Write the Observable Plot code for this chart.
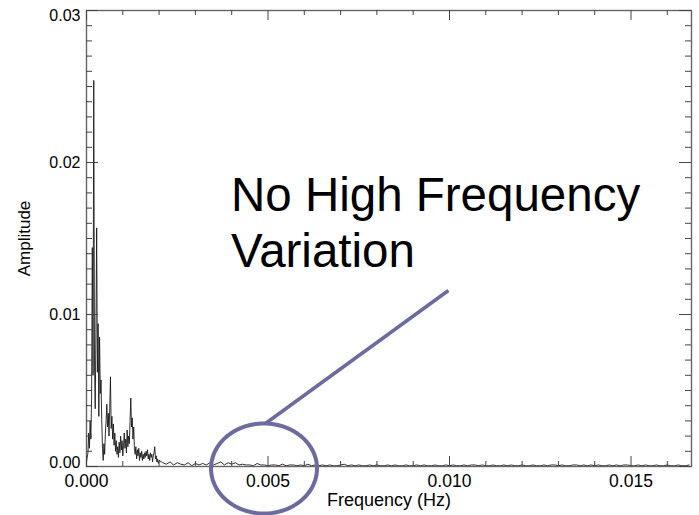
<!DOCTYPE html>
<html><head><meta charset="utf-8">
<script src="https://cdn.jsdelivr.net/npm/d3@7"></script>
<script src="https://cdn.jsdelivr.net/npm/@observablehq/plot@0.6"></script>
<style>html,body{margin:0;padding:0;background:#fff;} svg{display:block;}</style>
</head><body><div id="chart"></div>
<script>
// ---- data (amplitudes in units of 1e-4) ----
const lowStart = 0, lowStep = 0.00002;
const lowAmp = [
  3,6,9,22,12,30,18,45,144,60,
  254,70,38,90,157,62,94,33,85,48,
  57,30,12,4,15,8,22,30,41,26,
  35,20,38,59,25,33,18,28,14,22,
  10,17,8,13,6,16,9,20,11,17,
  7,14,22,12,18,9,24,13,20,15,
  30,45,26,32,18,26,12,8,13,5,
  11,7,12,4,9,6,10,4,8,5,
  9,6,10,7,11,5,8,4,9,6,
  8,3,7,9,13,5,7,3,5,2,4
];
const highStart = 0.0021, highStep = 0.0001;
const highAmp = [
  2.5,1.5,3,1,2.5,1.5,1,2.5,0.5,2,1,2,1,2.5,1,
  2,3,1,2.5,1.5,2.5,1,1.5,1,1,0.5,2,1,1,0.5,
  1,1,0.5,1.5,0.5,1,1,0.5,1,0.5,1.5,0.5,1,0.5,1,
  0.5,1,0.5,0.5,1,1.5,0.5,1,0.5,1,0.5,0.5,1,0.5,1,
  0.5,0.5,1,0.5,1,0.5,0.5,1,0.5,0.5,1,0.5,1,0.5,0.5,
  1,0.5,0.5,1,0.5,1,0.5,0.5,1,0.5,1,1,0.5,1,0.5,
  0.5,1,0.5,0.5,1,0.5,1,0.5,0.5,1,0.5,0.5,1,0.5,0.5,
  1,0.5,1,1,0.5,1,0.5,0.5,1,1,0.5,1,0.5,1,0.5,
  1,0.5,0.5,1,0.5,1,0.5,1,1,0.5,0.5,1,0.5,1,0.5,
  0.5,1,0.5,0.5,1,0.5,0.5,1,0.5,0.5,1
];
const xMajorTicks = [0, 0.005, 0.010, 0.015];
const xMinorTicks = [0.001,0.002,0.003,0.004,0.006,0.007,0.008,0.009,0.011,0.012,0.013,0.014,0.016];
const yMajorTicks = [0, 0.01, 0.02, 0.03];
const yMinorTicks = [0.001,0.002,0.003,0.004,0.005,0.006,0.007,0.008,0.009,
  0.011,0.012,0.013,0.014,0.015,0.016,0.017,0.018,0.019,
  0.021,0.022,0.023,0.024,0.025,0.026,0.027,0.028,0.029];
const xLabel = "Frequency (Hz)";
const yLabel = "Amplitude";
const noteLines = ["No High Frequency", "Variation"];

// ---- build table ----
const spectrum = lowAmp.map((a, i) => ({f: lowStart + i * lowStep, a: a * 1e-4}))
  .concat(highAmp.map((a, i) => ({f: highStart + i * highStep, a: a * 1e-4})));

// ---- layout ----
const W = 699, H = 515, mL = 86, mR = 8, mT = 10, mB = 49;
const PW = W - mL - mR, PH = H - mT - mB;
const accent = "#6b6b9f";

// annotation geometry (data units)
const ell = {cx: 0.00489, cy: -0.00013, rx: 0.00146, ry: 0.00296};
const ellipsePts = d3.range(0, 361, 3).map(t => ({
  x: ell.cx + ell.rx * Math.cos(t * Math.PI / 180),
  y: ell.cy + ell.ry * Math.sin(t * Math.PI / 180)
}));
const pointer = [{x1: 0.00997, y1: 0.01158, x2: 0.00493, y2: 0.00283}];

const fmt = d3.format(".3f");
const fmtY = d3.format(".2f");

const chart = Plot.plot({
  width: W, height: H,
  marginLeft: mL, marginRight: mR, marginTop: mT, marginBottom: mB,
  style: {fontFamily: "'Liberation Sans', Arial, Helvetica, sans-serif", background: "#fff", overflow: "visible", color: "#000"},
  x: {domain: [0, 1/60], label: null},
  y: {domain: [0, 0.03], label: null},
  marks: [
    Plot.line(spectrum, {x: "f", y: "a", stroke: "#1a1a1a", strokeWidth: 0.9}),
    Plot.frame({stroke: "#666", strokeWidth: 1.4}),
    // inward ticks: bottom & top
    Plot.tickX(xMajorTicks, {x: d => d, insetTop: PH - 10, stroke: "#444"}),
    Plot.tickX(xMinorTicks, {x: d => d, insetTop: PH - 5, stroke: "#444"}),
    Plot.tickX(xMajorTicks, {x: d => d, insetBottom: PH - 10, stroke: "#444"}),
    Plot.tickX(xMinorTicks, {x: d => d, insetBottom: PH - 5, stroke: "#444"}),
    // inward ticks: left & right
    Plot.tickY(yMajorTicks, {y: d => d, insetRight: PW - 12, stroke: "#444"}),
    Plot.tickY(yMinorTicks, {y: d => d, insetRight: PW - 6, stroke: "#444"}),
    Plot.tickY(yMajorTicks, {y: d => d, insetLeft: PW - 12, stroke: "#444"}),
    Plot.tickY(yMinorTicks, {y: d => d, insetLeft: PW - 6, stroke: "#444"}),
    // tick labels
    Plot.axisX(xMajorTicks, {tickSize: 0, tickPadding: 8, tickFormat: fmt, fontSize: 17.5, label: null}),
    Plot.axisY(yMajorTicks.slice(0, 1), {tickSize: 0, tickPadding: 6, tickFormat: fmtY, fontSize: 16, dy: -4, label: null}),
    Plot.axisY(yMajorTicks.slice(1, 3), {tickSize: 0, tickPadding: 6, tickFormat: fmtY, fontSize: 16, label: null}),
    Plot.axisY(yMajorTicks.slice(3), {tickSize: 0, tickPadding: 6, tickFormat: fmtY, fontSize: 16, dy: 5, label: null}),
    // axis titles
    Plot.text([xLabel], {text: d => d, frameAnchor: "bottom", dy: 39, fontSize: 18}),
    Plot.text([yLabel], {text: d => d, frameAnchor: "left", textAnchor: "middle", dx: -62, rotate: -90, fontSize: 17}),
    // annotation
    Plot.text([noteLines.join("\n")], {text: d => d, x: 0.00398, y: 0.01944, textAnchor: "start", lineAnchor: "top", lineHeight: 1.18, fontSize: 47.5, fill: "#000"}),
    Plot.link(pointer, {x1: "x1", y1: "y1", x2: "x2", y2: "y2", stroke: accent, strokeWidth: 3.5}),
    Plot.line(ellipsePts, {x: "x", y: "y", stroke: accent, strokeWidth: 4, curve: "linear"})
  ]
});
document.getElementById("chart").append(chart);
</script>
</body></html>
